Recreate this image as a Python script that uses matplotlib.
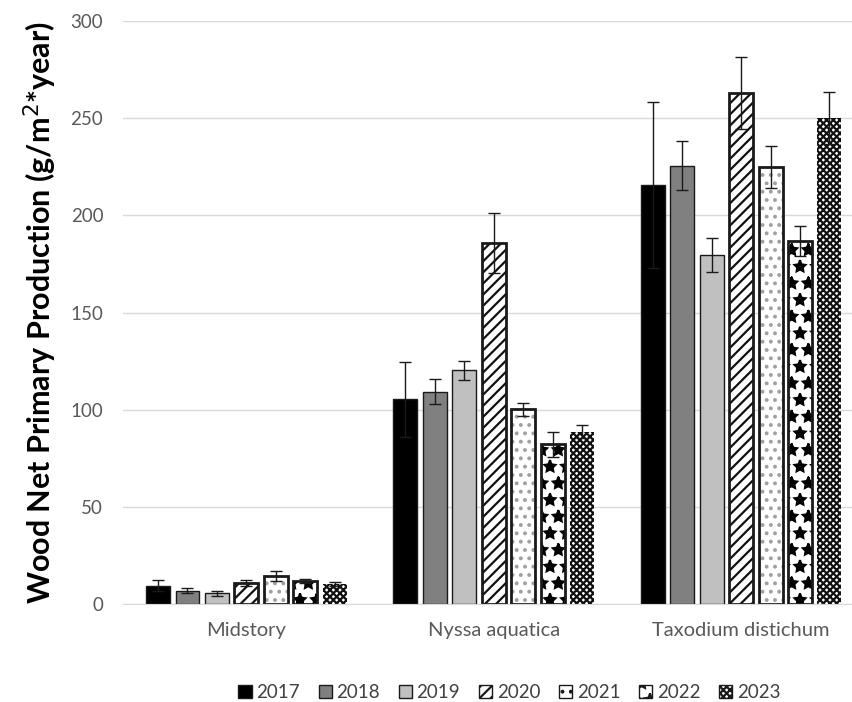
"""Wood NPP by species group and year, grouped bars with SE whiskers."""
import numpy as np
import matplotlib.pyplot as plt
from matplotlib.patches import Patch

plt.rcParams["font.family"] = ["Lato", "DejaVu Sans"]
plt.rcParams["hatch.linewidth"] = 1.6

groups = ["Midstory", "Nyssa aquatica", "Taxodium distichum"]
years = ["2017", "2018", "2019", "2020", "2021", "2022", "2023"]

# mean wood NPP per group, one list per year
npp = {
    "2017": [9.5, 105.3, 215.6],
    "2018": [6.9, 109.3, 225.6],
    "2019": [5.5, 120.3, 179.6],
    "2020": [11.0, 186.0, 263.2],
    "2021": [14.4, 100.2, 224.9],
    "2022": [11.8, 82.3, 186.8],
    "2023": [10.3, 88.7, 250.3],
}
npp_err = {
    "2017": [3.0, 19.4, 42.5],
    "2018": [1.2, 6.5, 12.5],
    "2019": [1.4, 4.9, 8.5],
    "2020": [1.5, 15.4, 18.5],
    "2021": [2.8, 3.4, 11.0],
    "2022": [1.1, 6.4, 7.7],
    "2023": [1.2, 3.4, 13.4],
}

# fill, hatch, hatch colour, outline width per year
styles = {
    "2017": dict(fc="black", hatch=None, hc="black", lw=1.0),
    "2018": dict(fc="#808080", hatch=None, hc="black", lw=1.0),
    "2019": dict(fc="#c0c0c0", hatch=None, hc="black", lw=1.0),
    "2020": dict(fc="white", hatch="///", hc="#111111", lw=2.0),
    "2021": dict(fc="white", hatch="..", hc="#a0a0a0", lw=2.0),
    "2022": dict(fc="white", hatch="*", hc="black", lw=2.0),
    "2023": dict(fc="white", hatch="xxxxx", hc="#111111", lw=0.0),
}

fig = plt.figure(figsize=(8.52, 7.02), dpi=100)
ax = fig.add_axes([0.144, 0.1396, 0.871, 0.8304])

x = np.arange(len(groups))
step = 0.119
width = 0.097
for j, yr in enumerate(years):
    st = styles[yr]
    pos = x + (j - 3) * step
    # fill + hatch first, then the outline on top
    ax.bar(pos, npp[yr], width, facecolor=st["fc"], hatch=st["hatch"],
           edgecolor=st["hc"], linewidth=0, zorder=2)
    if st["lw"] > 0:
        ax.bar(pos, npp[yr], width, facecolor="none", edgecolor="#1a1a1a",
               linewidth=st["lw"], zorder=2.5)
    ax.errorbar(pos, npp[yr], yerr=npp_err[yr], fmt="none",
                ecolor="#1a1a1a", elinewidth=1.0, capsize=4, capthick=1.0,
                zorder=3)

ax.set_xlim(-0.5, 2.5)
ax.set_ylim(0, 300)
ax.set_yticks(np.arange(0, 301, 50))
ax.grid(axis="y", color="#d9d9d9", linewidth=1.0, zorder=0)
ax.set_axisbelow(True)
for side in ["top", "right", "left"]:
    ax.spines[side].set_visible(False)
ax.spines["bottom"].set_color("#d9d9d9")
ax.tick_params(axis="both", length=0, colors="#595959", labelsize=13.5)
ax.tick_params(axis="y", pad=14)
ax.tick_params(axis="x", pad=13, labelsize=14.5)
ax.set_xticks(x)
ax.set_xticklabels(groups)

ax.set_ylabel("Wood Net Primary Production (g/m$^2$*year)",
              fontsize=22, fontweight="bold", color="black", labelpad=8)

handles = []
for yr in years:
    st = styles[yr]
    handles.append(Patch(facecolor=st["fc"], hatch=st["hatch"],
                         edgecolor="#1a1a1a", linewidth=1.0, label=yr))
fig.legend(handles=handles, loc="center", bbox_to_anchor=(0.598, 0.013),
           ncol=7, frameon=False, fontsize=13.5, handlelength=0.7,
           handleheight=0.7, handletextpad=0.25, columnspacing=1.0,
           labelcolor="#404040")

fig.savefig("out.png", dpi=100)
